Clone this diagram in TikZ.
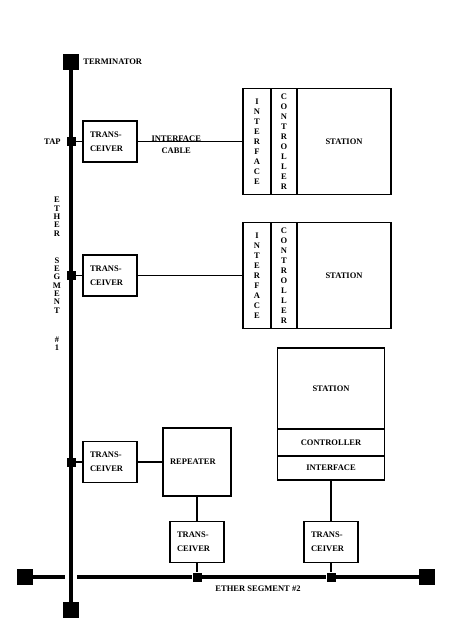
\documentclass[tikz,border=0pt]{standalone}
\usepackage{fontspec}
\setmainfont{Liberation Serif}
\usetikzlibrary{positioning}
\tikzset{
  ether/.style={line width=3.2pt},
  cable/.style={line width=1.3pt},
  box/.style={rectangle,draw,line width=1.3pt,outer sep=0pt,inner sep=0pt,
    font=\fontsize{8.5}{10}\selectfont\bfseries,align=center},
}

\begin{document}
\begin{tikzpicture}[
  x=1pt,y=-1pt,
  term/.style={rectangle,fill=black,minimum size=16pt,inner sep=0pt},
  tap/.style={rectangle,fill=black,minimum size=9pt,inner sep=0pt},
  xcvr/.style={box,minimum width=54pt,minimum height=41pt,text width=40pt,
    align=left,font=\fontsize{8.5}{14}\selectfont\bfseries},
  col/.style={box,minimum height=106pt},
  lbl/.style={font=\fontsize{8.5}{10}\selectfont\bfseries,inner sep=0pt},
]
\useasboundingbox (0,0) rectangle (450,627);

% ETHER SEGMENT #1 (left, vertical)
\node[term] (T1) at (71,62) {};
\node[term] (T2) at (71,610) {};
\node[tap] (P1) at (71,141.5) {};
\node[tap] (P2) at (71,275.5) {};
\node[tap] (P3) at (71,462) {};

% ETHER SEGMENT #2 (bottom, horizontal)
\node[term] (T3) at (25,577) {};
\node[term] (T4) at (427,577) {};
\node[tap] (P4) at (197,577) {};
\node[tap] (P5) at (331,577) {};
\coordinate (gapL) at (65,577);
\coordinate (gapR) at (77,577);

% TRANSCEIVERS
\node[xcvr] (X1) at (110,141.5) {TRANS-\\CEIVER};
\node[xcvr] (X2) at (110,275.5) {TRANS-\\CEIVER};
\node[xcvr] (X3) at (110,462) {TRANS-\\CEIVER};
\node[xcvr] (X4) at (197,542) {TRANS-\\CEIVER};
\node[xcvr] (X5) at (331,542) {TRANS-\\CEIVER};

% STATION 1 (top right)
\node[col,minimum width=28pt] (I1) at (257,141.5) {I\\N\\T\\E\\R\\F\\A\\C\\E};
\node[col,minimum width=26pt,right=0pt of I1] (C1) {C\\O\\N\\T\\R\\O\\L\\L\\E\\R};
\node[col,minimum width=94pt,right=0pt of C1] (S1) {STATION};

% STATION 2 (middle right)
\node[col,minimum width=28pt] (I2) at (257,275.5) {I\\N\\T\\E\\R\\F\\A\\C\\E};
\node[col,minimum width=26pt,right=0pt of I2] (C2) {C\\O\\N\\T\\R\\O\\L\\L\\E\\R};
\node[col,minimum width=94pt,right=0pt of C2] (S2) {STATION};

% STATION 3 (lower right, stacked)
\node[box,minimum width=107pt,minimum height=81pt] (S3) at (331,388.5) {STATION};
\node[box,minimum width=107pt,minimum height=27pt,below=0pt of S3] (C3) {CONTROLLER};
\node[box,minimum width=107pt,minimum height=24pt,below=0pt of C3] (I3) {INTERFACE};

% REPEATER
\node[xcvr,minimum width=68pt,minimum height=68pt,text width=54pt] (R) at (197,462) {REPEATER};

% Labels
\node[lbl,right=4pt of T1] (termlbl) {TERMINATOR};
\node[lbl,left=5.5pt of P1] (taplbl) {TAP};
\node[lbl,align=center,font=\fontsize{8.5}{8.3}\selectfont\bfseries] (seg1lbl) at (57,274)
  {E\\T\\H\\E\\R\\[19pt]S\\E\\G\\M\\E\\N\\T\\[21pt]\#\\1};
\node[lbl] (seg2lbl) at (258,589) {ETHER SEGMENT \#2};

% Cables
\draw[ether] (T1) -- (T2);
\draw[ether] (T3) -- (gapL);
\draw[ether] (gapR) -- (P4) -- (P5) -- (T4);
\draw[cable] (P1) -- (X1);
\draw[cable] (P2) -- (X2);
\draw[cable] (P3) -- (X3);
\draw[cable] (X1) -- node[lbl,align=center,pos=0.37,yshift=-3.5pt,
  font=\fontsize{8.5}{12}\selectfont\bfseries]{INTERFACE\\CABLE} (I1);
\draw[cable] (X2) -- (I2);
\draw[cable] (X3) -- (R);
\draw[cable] (R) -- (X4);
\draw[cable] (X4) -- (P4);
\draw[cable] (I3) -- (X5);
\draw[cable] (X5) -- (P5);
\end{tikzpicture}
\end{document}
